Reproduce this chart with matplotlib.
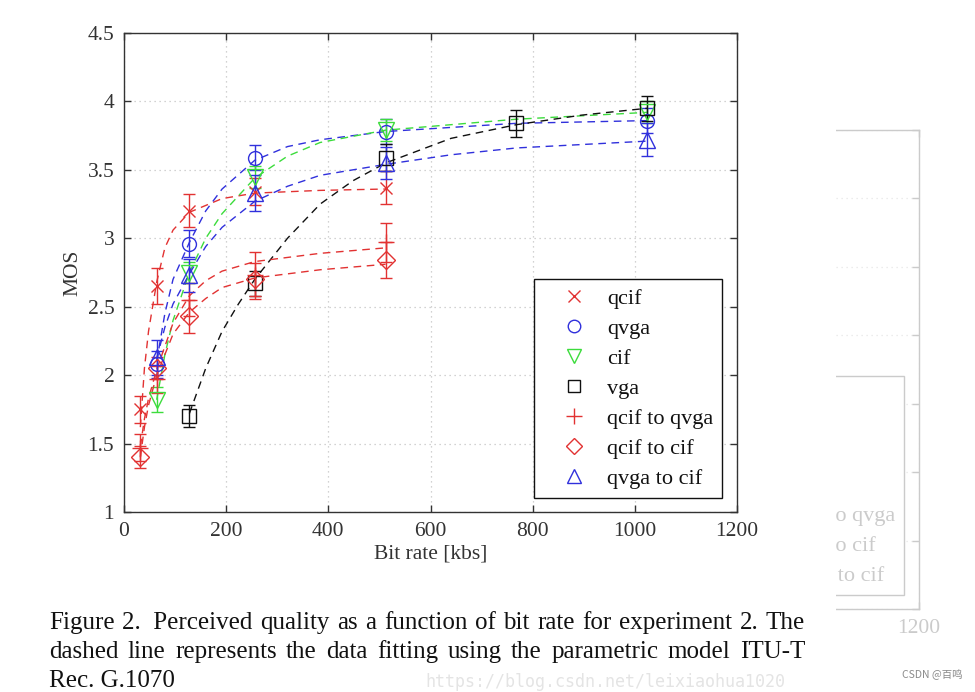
import numpy as np
import matplotlib.pyplot as plt
from matplotlib.lines import Line2D
from matplotlib.patches import Rectangle


# Datos medidos (MOS vs bit rate)

qcif_rate = [32, 64, 128, 256, 512]
qcif_mos = [1.75, 2.65, 3.20, 3.34, 3.37]
qcif_err = [0.10, 0.13, 0.12, 0.10, 0.12]

qvga_rate = [64, 128, 256, 512, 1024]
qvga_mos = [2.08, 2.96, 3.59, 3.78, 3.86]
qvga_err = [0.10, 0.10, 0.09, 0.09, 0.09]

cif_rate = [64, 128, 256, 512, 1024]
cif_mos = [1.82, 2.75, 3.45, 3.79, 3.92]
cif_err = [0.09, 0.08, 0.08, 0.08, 0.08]

vga_rate = [128, 256, 512, 768, 1024]
vga_mos = [1.70, 2.67, 3.59, 3.84, 3.95]
vga_err = [0.08, 0.09, 0.10, 0.10, 0.09]

q2qv_rate = [32, 64, 128, 256, 512]
q2qv_mos = [1.47, 1.97, 2.55, 2.73, 2.97]
q2qv_err = [0.10, 0.10, 0.12, 0.17, 0.14]

q2c_rate = [32, 64, 128, 256, 512]
q2c_mos = [1.40, 2.05, 2.43, 2.70, 2.84]
q2c_err = [0.08, 0.08, 0.12, 0.12, 0.13]

qv2c_rate = [64, 128, 256, 512, 1024]
qv2c_mos = [2.13, 2.73, 3.33, 3.55, 3.72]
qv2c_err = [0.13, 0.12, 0.13, 0.12, 0.12]


# Curvas de ajuste

qcif_fit_x = [32, 40, 48, 64, 80, 96, 128, 192, 256, 384, 512]
qcif_fit_y = [1.62, 2.05, 2.32, 2.68, 2.93, 3.06, 3.19, 3.29, 3.33, 3.35, 3.36]

qvga_fit_x = [64, 80, 96, 128, 160, 192, 256, 320, 384, 512, 768, 1024]
qvga_fit_y = [2.10, 2.45, 2.70, 2.97, 3.20, 3.36, 3.57, 3.67, 3.72, 3.78, 3.84, 3.86]

cif_fit_x = [64, 80, 96, 128, 160, 192, 256, 320, 384, 512, 768, 1024]
cif_fit_y = [1.82, 2.15, 2.40, 2.75, 3.00, 3.18, 3.44, 3.60, 3.70, 3.79, 3.87, 3.92]

vga_fit_x = [128, 160, 192, 224, 256, 320, 384, 448, 512, 640, 768, 896, 1024]
vga_fit_y = [1.72, 2.05, 2.32, 2.52, 2.70, 3.00, 3.25, 3.42, 3.55, 3.73, 3.83, 3.90, 3.95]

q2qv_fit_x = [32, 40, 48, 64, 96, 128, 160, 192, 256, 384, 512]
q2qv_fit_y = [1.48, 1.68, 1.83, 2.04, 2.38, 2.58, 2.69, 2.76, 2.83, 2.89, 2.93]

q2c_fit_x = [32, 40, 48, 64, 96, 128, 160, 192, 256, 384, 512]
q2c_fit_y = [1.40, 1.62, 1.78, 2.00, 2.30, 2.46, 2.56, 2.64, 2.71, 2.77, 2.81]

qv2c_fit_x = [64, 80, 96, 128, 160, 192, 256, 320, 384, 512, 640, 768, 1024]
qv2c_fit_y = [2.12, 2.35, 2.52, 2.74, 2.94, 3.08, 3.27, 3.38, 3.46, 3.54, 3.61, 3.66, 3.71]

labels = ['qcif', 'qvga', 'cif', 'vga', 'qcif to qvga', 'qcif to cif', 'qvga to cif']

xtick_vals = [0, 200, 400, 600, 800, 1000, 1200]
ytick_vals = [1, 1.5, 2, 2.5, 3, 3.5, 4, 4.5]

caption = ['Figure 2.   Perceived quality as a function of bit rate for experiment 2. The',
           'dashed line represents the data fitting using the parametric model ITU-T',
           'Rec. G.1070']


# Estilo

RED = '#e23232'
BLUE = '#3030dc'
GREEN = '#3cdc3c'
BLACK = '#101010'

series = [
    (qcif_rate, qcif_mos, qcif_err, qcif_fit_x, qcif_fit_y, RED, 'x', 9),
    (qvga_rate, qvga_mos, qvga_err, qvga_fit_x, qvga_fit_y, BLUE, 'o', 10),
    (cif_rate, cif_mos, cif_err, cif_fit_x, cif_fit_y, GREEN, 'v', 11),
    (vga_rate, vga_mos, vga_err, vga_fit_x, vga_fit_y, BLACK, 's', 10),
    (q2qv_rate, q2qv_mos, q2qv_err, q2qv_fit_x, q2qv_fit_y, RED, '+', 12),
    (q2c_rate, q2c_mos, q2c_err, q2c_fit_x, q2c_fit_y, RED, 'D', 9),
    (qv2c_rate, qv2c_mos, qv2c_err, qv2c_fit_x, qv2c_fit_y, BLUE, '^', 11),
]

plt.rcParams['font.family'] = ['Liberation Serif', 'DejaVu Serif']

W, H = 975, 692
fig = plt.figure(figsize=(W / 100, H / 100), dpi=100)


def frac(px, py):
    return px / W, 1 - py / H


def setup_axes(ax, fg, grid_col, ghost=False):
    ax.set_xlim(0, 1200)
    ax.set_ylim(1, 4.5)
    ax.set_xticks(xtick_vals)
    ax.set_yticks(ytick_vals)
    if ghost:
        # solo se ve la parte derecha de la copia de fondo
        ax.set_xticklabels([''] * 6 + ['1200'])
        ax.set_yticklabels([])
    else:
        ax.set_xticklabels([str(v) for v in xtick_vals])
        ax.set_yticklabels(['{:g}'.format(v) for v in ytick_vals])
        ax.set_xlabel('Bit rate [kbs]', fontsize=15.5, color=fg, labelpad=3)
        ax.set_ylabel('MOS', fontsize=15.5, color=fg, labelpad=4)
    ax.tick_params(direction='in', top=True, right=True, length=5, width=1,
                   color=fg, labelcolor=fg, labelsize=15.5, pad=7)
    for s in ax.spines.values():
        s.set_color(fg)
        s.set_linewidth(1.0)
    ax.grid(True, color=grid_col, linestyle=(0, (1, 3)), linewidth=0.9)
    ax.set_axisbelow(True)


def add_legend(ax, fg, use_fg):
    handles = []
    for (_, _, _, _, _, col, mk, ms), lab in zip(series, labels):
        c = fg if use_fg else col
        handles.append(Line2D([], [], linestyle='None', marker=mk, markersize=ms - 1,
                              mec=c, mfc='none', mew=1.0))
    leg = ax.legend(handles, labels, loc='lower right', bbox_to_anchor=(0.976, 0.029),
                    borderaxespad=0, fontsize=16, labelspacing=0.43, borderpad=0.4,
                    handlelength=2.8, handletextpad=0.1, fancybox=False,
                    framealpha=1, edgecolor=fg, labelcolor=fg)
    leg.get_frame().set_linewidth(1.0)
    return leg


# Imagen fantasma de fondo (a la derecha)

ax_g = fig.add_axes([306 / W, 1 - 609 / H, 613 / W, 479 / H])
setup_axes(ax_g, '#cbcbcb', '#e6e6e6', ghost=True)
add_legend(ax_g, '#cbcbcb', True)
ax_g.set_zorder(0)

fig.add_artist(Rectangle((0, 0), 836 / W, 1, transform=fig.transFigure,
                         facecolor='white', edgecolor='none', zorder=1))


# Grafico principal

ax = fig.add_axes([124 / W, 1 - 512 / H, 613 / W, 479 / H])
ax.set_zorder(2)
setup_axes(ax, '#333333', '#c4c4c4')

for rate, mos, err, fx, fy, col, mk, ms in series:

    ax.plot(fx, fy, linestyle=(0, (5.5, 4)), color=col, linewidth=1.0)

    ax.errorbar(rate, mos, yerr=err, fmt=mk, color=col, ms=ms, mfc='none',
                mec=col, mew=1.0, elinewidth=1.0, capsize=4, capthick=1.0)

add_legend(ax, '#111111', False)


# Leyenda de la figura (texto justificado)

fig.canvas.draw()
renderer = fig.canvas.get_renderer()

x_left, x_right = 49, 805
y_lines = [623, 652, 681]

probe = fig.text(0, 0, caption[0], fontsize=16.5)
cap_size = 16.5 * (x_right - x_left) / probe.get_window_extent(renderer).width * 0.985
probe.remove()

for k, (line, yl) in enumerate(zip(caption, y_lines)):

    if k == len(caption) - 1:
        fig.text(*frac(x_left, yl), line, fontsize=cap_size, va='center', ha='left',
                 color='#111111', zorder=3)
        continue

    words = line.replace('2.   ', '2.\u00a0\u00a0').split(' ')
    texts = [fig.text(0, 0, w, fontsize=cap_size, va='center', ha='left',
                      color='#111111', zorder=3) for w in words]
    widths = [t.get_window_extent(renderer).width for t in texts]
    gap = (x_right - x_left - sum(widths)) / (len(words) - 1)
    xpos = x_left
    for t, wd in zip(texts, widths):
        t.set_position(frac(xpos, yl))
        xpos += wd + gap


# Marcas de agua

fig.text(*frac(605, 691), 'https://blog.csdn.net/leixiaohua1020', fontsize=12,
         family='DejaVu Sans Mono', color='#e4e4e4', ha='center', va='bottom', zorder=2)

fig.text(*frac(932, 675), 'CSDN @百鸣', fontsize=7.5, family=['Noto Sans CJK SC', 'DejaVu Sans'],
         color='#8a8a8a', ha='center', va='center', zorder=3)


fig.savefig('out.png', dpi=100)
